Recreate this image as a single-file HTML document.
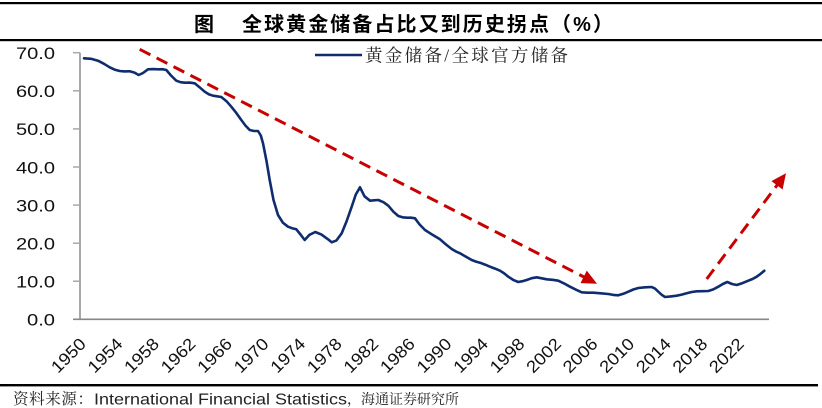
<!DOCTYPE html>
<html>
<head>
<meta charset="utf-8">
<style>
html,body{margin:0;padding:0;background:#fff;}
svg{display:block;}
</style>
</head>
<body>
<svg width="822" height="408" viewBox="0 0 822 408" xmlns="http://www.w3.org/2000/svg">
<rect x="0" y="0" width="822" height="408" fill="#ffffff"/>
<!-- frame lines -->
<rect x="0" y="2" width="822" height="2.2" fill="#000"/>
<rect x="0" y="39" width="822" height="2.2" fill="#000"/>
<rect x="0" y="384" width="818" height="2.4" fill="#000"/>

<!-- title -->
<text x="194" y="31" font-family="'Liberation Sans','Noto Sans CJK SC',sans-serif" font-size="20" font-weight="bold" fill="#000">图</text>
<text x="242" y="31" font-family="'Liberation Sans','Noto Sans CJK SC',sans-serif" font-size="20" font-weight="bold" fill="#000" textLength="371" lengthAdjust="spacing">全球黄金储备占比又到历史拐点（%）</text>

<!-- legend -->
<line x1="315" y1="55" x2="362" y2="55" stroke="#0f2d6e" stroke-width="2.5"/>
<text x="365" y="61.5" font-family="'Liberation Serif','Noto Serif CJK SC',serif" font-size="17.5" fill="#222" textLength="203" lengthAdjust="spacing">黄金储备/全球官方储备</text>

<!-- axes -->
<line x1="80" y1="52.7" x2="80" y2="319.3" stroke="#a8a8a8" stroke-width="2"/>
<g stroke="#a8a8a8" stroke-width="1.5">
<line x1="73" y1="52.7" x2="80" y2="52.7"/>
<line x1="73" y1="90.8" x2="80" y2="90.8"/>
<line x1="73" y1="128.9" x2="80" y2="128.9"/>
<line x1="73" y1="167" x2="80" y2="167"/>
<line x1="73" y1="205.1" x2="80" y2="205.1"/>
<line x1="73" y1="243.2" x2="80" y2="243.2"/>
<line x1="73" y1="281.2" x2="80" y2="281.2"/>
</g>
<line x1="73" y1="319.3" x2="769" y2="319.3" stroke="#878787" stroke-width="1.6"/>

<!-- y tick labels -->
<g font-family="'Liberation Sans',sans-serif" font-size="17" fill="#111" text-anchor="end">
<text x="55" y="59" textLength="39" lengthAdjust="spacingAndGlyphs">70.0</text>
<text x="55" y="97.1" textLength="39" lengthAdjust="spacingAndGlyphs">60.0</text>
<text x="55" y="135.2" textLength="39" lengthAdjust="spacingAndGlyphs">50.0</text>
<text x="55" y="173.3" textLength="39" lengthAdjust="spacingAndGlyphs">40.0</text>
<text x="55" y="211.4" textLength="39" lengthAdjust="spacingAndGlyphs">30.0</text>
<text x="55" y="249.5" textLength="39" lengthAdjust="spacingAndGlyphs">20.0</text>
<text x="55" y="287.5" textLength="39" lengthAdjust="spacingAndGlyphs">10.0</text>
<text x="55" y="325.6" textLength="28" lengthAdjust="spacingAndGlyphs">0.0</text>
</g>

<!-- x tick labels -->
<g font-family="'Liberation Sans',sans-serif" font-size="17" fill="#111" text-anchor="end">
<text x="87" y="345" transform="rotate(-45 87 345)" textLength="41" lengthAdjust="spacingAndGlyphs">1950</text>
<text x="123.6" y="345" transform="rotate(-45 123.6 345)" textLength="41" lengthAdjust="spacingAndGlyphs">1954</text>
<text x="160.1" y="345" transform="rotate(-45 160.1 345)" textLength="41" lengthAdjust="spacingAndGlyphs">1958</text>
<text x="196.7" y="345" transform="rotate(-45 196.7 345)" textLength="41" lengthAdjust="spacingAndGlyphs">1962</text>
<text x="233.2" y="345" transform="rotate(-45 233.2 345)" textLength="41" lengthAdjust="spacingAndGlyphs">1966</text>
<text x="269.8" y="345" transform="rotate(-45 269.8 345)" textLength="41" lengthAdjust="spacingAndGlyphs">1970</text>
<text x="306.4" y="345" transform="rotate(-45 306.4 345)" textLength="41" lengthAdjust="spacingAndGlyphs">1974</text>
<text x="342.9" y="345" transform="rotate(-45 342.9 345)" textLength="41" lengthAdjust="spacingAndGlyphs">1978</text>
<text x="379.5" y="345" transform="rotate(-45 379.5 345)" textLength="41" lengthAdjust="spacingAndGlyphs">1982</text>
<text x="416" y="345" transform="rotate(-45 416 345)" textLength="41" lengthAdjust="spacingAndGlyphs">1986</text>
<text x="452.6" y="345" transform="rotate(-45 452.6 345)" textLength="41" lengthAdjust="spacingAndGlyphs">1990</text>
<text x="489.2" y="345" transform="rotate(-45 489.2 345)" textLength="41" lengthAdjust="spacingAndGlyphs">1994</text>
<text x="525.7" y="345" transform="rotate(-45 525.7 345)" textLength="41" lengthAdjust="spacingAndGlyphs">1998</text>
<text x="562.3" y="345" transform="rotate(-45 562.3 345)" textLength="41" lengthAdjust="spacingAndGlyphs">2002</text>
<text x="598.8" y="345" transform="rotate(-45 598.8 345)" textLength="41" lengthAdjust="spacingAndGlyphs">2006</text>
<text x="635.4" y="345" transform="rotate(-45 635.4 345)" textLength="41" lengthAdjust="spacingAndGlyphs">2010</text>
<text x="672" y="345" transform="rotate(-45 672 345)" textLength="41" lengthAdjust="spacingAndGlyphs">2014</text>
<text x="708.5" y="345" transform="rotate(-45 708.5 345)" textLength="41" lengthAdjust="spacingAndGlyphs">2018</text>
<text x="745" y="345" transform="rotate(-45 745 345)" textLength="41" lengthAdjust="spacingAndGlyphs">2022</text>
</g>

<!-- red dashed arrows -->
<line x1="139.7" y1="49.3" x2="584" y2="277" stroke="#c80000" stroke-width="3" stroke-dasharray="12 7"/>
<polygon points="597,283.7 580.5,283.1 586.8,270.6" fill="#c80000"/>
<line x1="706.7" y1="279" x2="777.5" y2="184.6" stroke="#c80000" stroke-width="3" stroke-dasharray="12 7"/>
<polygon points="786,173.3 782.6,189.5 771.4,181.1" fill="#c80000"/>

<!-- data series -->
<polyline fill="none" stroke="#0f2d6e" stroke-width="2.6" stroke-linejoin="round" stroke-linecap="round"
points="84,58.3 91,58.8 98,60.7 104,63.8 109.7,67.3 114.5,69.6 119.7,71 124.5,71.4 129.7,71.3 134.5,72.6 138.7,75 143,73 148,69.3 153,69.1 158,69.3 162.5,69.2 166.3,70 171,75.5 176.3,80.7 180.5,82.2 184.7,82.7 189.5,82.6 194.7,83.3 199.5,87.2 204.7,91.7 209,94.4 213,95.7 217,96.3 221.3,97 226.5,101.2 231.3,106.7 236.5,113.2 241.3,120 245.5,125.6 249.7,130 254,131 258,131 260.8,135.5 263,143.3 266.5,161 269.7,180 273.5,200 278,215 282.8,222.6 288,226.7 292,228.2 296.3,229.3 300.5,234.5 304.7,240 309.5,234.8 315.3,232 321.5,234.6 328,239.3 331.7,242.3 336.5,240.4 341.7,233.3 346.5,221.5 351.7,206.7 355.8,194.5 360,187.3 364.5,196.3 370,200.7 374,200.3 378.3,200 383.5,202.2 388.3,205.7 393.5,211.8 398.3,216 402.5,217.3 406.7,217.7 411,217.7 415,218.3 419.5,224.4 425,230 432.5,234.8 440,239.3 446,244.5 451.7,249 455.8,251.4 460,253.3 466,256.8 471.7,260 476,261.6 480,262.7 485,264.6 490,266.7 495,268.6 500,270.7 504.2,273.4 508.3,276.7 513.2,279.9 518.3,282 522.5,281.2 526.7,280 531.7,278.2 536.7,277.3 541.7,278.3 546.7,279.3 552.5,279.8 558.3,280.7 564,283.4 570,286.7 576,289.7 581.7,292.3 587.5,292.7 593.3,292.7 600.8,293.3 608.3,294 613.3,294.9 618.3,295.3 623.3,293.8 628.3,291.7 633.3,289.5 638.3,288 645,287.3 651.7,287 655,288.6 658.3,291.7 661.7,294.8 665,297 670.8,296.4 676.7,295.7 681.7,294.6 686.7,293.3 691.7,292 696.7,291.3 702.5,291.2 708.3,291 713.3,289.4 718.3,286.7 722.8,284 727.3,282 732,284 736.7,285 742.5,283.1 748.3,280.7 752.5,279 756.7,276.7 760.5,273.9 764.3,270.7"/>

<!-- source -->
<text x="13" y="404" font-family="'Liberation Serif','Noto Serif CJK SC',serif" font-size="15.5" fill="#222" textLength="80" lengthAdjust="spacing">资料来源：</text>
<text x="94" y="404.5" font-family="'Liberation Sans',sans-serif" font-size="16" fill="#222" textLength="253" lengthAdjust="spacingAndGlyphs">International Financial Statistics</text>
<text x="347" y="404" font-family="'Liberation Serif','Noto Serif CJK SC',serif" font-size="14" fill="#222">，海通证券研究所</text>
</svg>
</body>
</html>
